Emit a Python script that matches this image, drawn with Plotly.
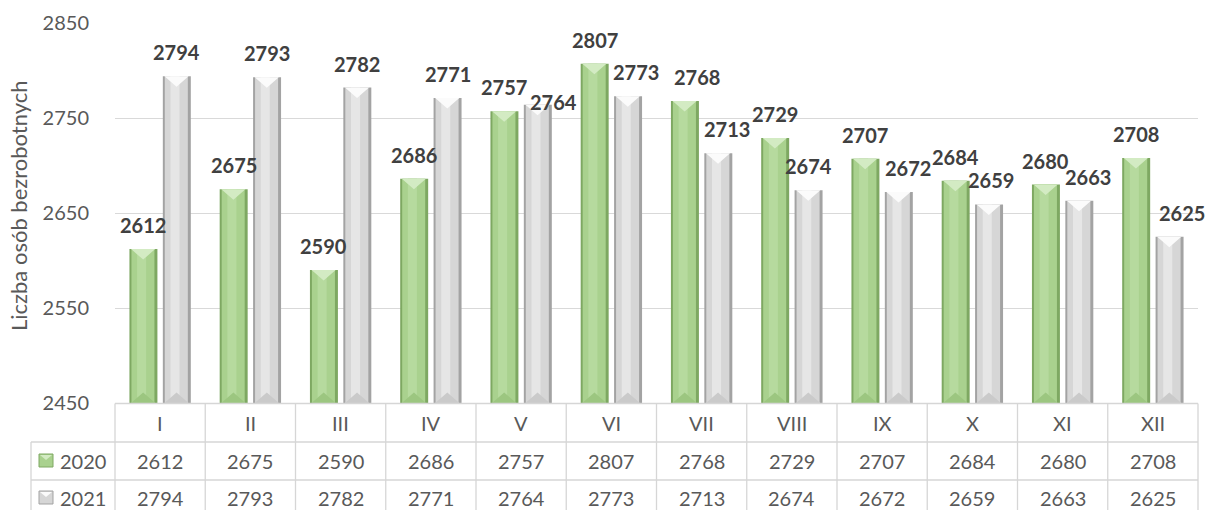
import plotly.graph_objects as go

# ---------------- data ----------------
months = ["I", "II", "III", "IV", "V", "VI", "VII", "VIII", "IX", "X", "XI", "XII"]
series_names = ["2020", "2021"]
values_2020 = [2612, 2675, 2590, 2686, 2757, 2807, 2768, 2729, 2707, 2684, 2680, 2708]
values_2021 = [2794, 2793, 2782, 2771, 2764, 2773, 2713, 2674, 2672, 2659, 2663, 2625]
y_ticks = [2450, 2550, 2650, 2750, 2850]
y_title = "Liczba osób bezrobotnych"

# label nudges in pixels (styling only)
label_dx_2020 = [0, 0, 0, 0, 0, 0, 12, 0, 0, 0, 0, 0]
label_dx_2021 = [0, 0, 0, 0, 16, 8, 9, 0, 9, 2, 9, 12]
label_dy_2021 = [0, 0, 0, 0, -21, 0, 0, 0, 0, 0, 0, 0]

# ---------------- layout geometry ----------------
W, H = 1208, 510
L, R, T, B = 115, 10, 23, 107
PW = W - L - R
PH = H - T - B
FONT = "Lato"
TXT = "#595959"
LBL = "#404040"
GRID = "#d9d9d9"
n = len(months)


def px2x(px):
    return (px - L) / PW


def px2y(py):
    return (T + PH - py) / PH


def xd2paper(xd):
    return (xd + 0.5) / n


idx = list(range(n))
BW = 0.31
OFF = {"2020": -0.185, "2021": 0.185}
VALS = {"2020": values_2020, "2021": values_2021}
DX = {"2020": label_dx_2020, "2021": label_dx_2021}
DY = {"2020": [0] * n, "2021": label_dy_2021}
STY = {
    "2020": dict(edge="#7ea862", main="#a9d18e", light="#b6da9e", top="#d3ebc3", bot="#9cc680"),
    "2021": dict(edge="#a3a3a3", main="#d6d6d6", light="#e6e6e6", top="#fbfbfb", bot="#cacaca"),
}
units_per_px = (y_ticks[-1] - y_ticks[0]) / PH

fig = go.Figure()

for s in series_names:
    st = STY[s]
    v = VALS[s]
    o = OFF[s]
    # base (dark edge)
    fig.add_trace(go.Bar(x=idx, y=v, offset=o - BW / 2, width=BW,
                         marker=dict(color=st["edge"], line=dict(width=0)),
                         name=s, showlegend=False, hoverinfo="y"))
    # main body
    fig.add_trace(go.Bar(x=idx, y=v, offset=o - BW / 2 + 0.022, width=BW - 0.055,
                         marker=dict(color=st["main"], line=dict(width=0)),
                         showlegend=False, hoverinfo="skip"))
    # highlight
    fig.add_trace(go.Bar(x=idx, y=v, offset=o - 0.07, width=0.1,
                         marker=dict(color=st["light"], line=dict(width=0)),
                         showlegend=False, hoverinfo="skip"))
    # top bevel triangles
    d = 10.5 * units_per_px
    tx, ty = [], []
    for i, val in zip(idx, v):
        x0 = i + o - BW / 2 + 0.018
        x1 = i + o + BW / 2 - 0.025
        tx += [x0, x1, i + o - 0.003, x0, None]
        ty += [val, val, val - d, val, None]
    fig.add_trace(go.Scatter(x=tx, y=ty, mode="lines", fill="toself",
                             fillcolor=st["top"], line=dict(width=0, color=st["top"]),
                             showlegend=False, hoverinfo="skip"))
    # bottom bevel triangles
    bx, by = [], []
    base = y_ticks[0]
    for i in idx:
        x0 = i + o - BW / 2 + 0.018
        x1 = i + o + BW / 2 - 0.025
        bx += [x0, x1, i + o - 0.003, x0, None]
        by += [base, base, base + d, base, None]
    fig.add_trace(go.Scatter(x=bx, y=by, mode="lines", fill="toself",
                             fillcolor=st["bot"], line=dict(width=0, color=st["bot"]),
                             showlegend=False, hoverinfo="skip"))

annotations = []
# data labels
for s in series_names:
    for i, val in zip(idx, VALS[s]):
        annotations.append(dict(x=i + OFF[s], y=val, xref="x", yref="y",
                                text=str(val), showarrow=False,
                                xshift=DX[s][i], yshift=24 + DY[s][i],
                                yanchor="middle", xanchor="center",
                                font=dict(family=FONT, size=20, color=LBL, weight="bold")))

# table header row and value rows
row_y = {"hdr": 423, "2020": 461, "2021": 498}
for i, m in enumerate(months):
    annotations.append(dict(x=i, y=px2y(row_y["hdr"]), xref="x", yref="paper",
                            text=m, showarrow=False, yanchor="middle",
                            font=dict(family=FONT, size=20, color=TXT)))
for s in series_names:
    for i, val in zip(idx, VALS[s]):
        annotations.append(dict(x=i, y=px2y(row_y[s]), xref="x", yref="paper",
                                text=str(val), showarrow=False, yanchor="middle",
                                font=dict(family=FONT, size=20, color=TXT)))
    annotations.append(dict(x=px2x(58), y=px2y(row_y[s]), xref="paper", yref="paper",
                            text=s, showarrow=False, xanchor="left", yanchor="middle",
                            font=dict(family=FONT, size=20, color=TXT)))

# axis title
annotations.append(dict(x=px2x(18), y=px2y(206), xref="paper", yref="paper",
                        text=y_title, textangle=-90, showarrow=False,
                        xanchor="center", yanchor="middle",
                        font=dict(family=FONT, size=22, color=TXT)))

shapes = []
LC = "#d6d6d6"
# horizontal table lines
shapes.append(dict(type="line", xref="paper", yref="paper", x0=0, x1=1,
                   y0=px2y(403.5), y1=px2y(403.5), line=dict(color=LC, width=1.3)))
for yy in (442, 480):
    shapes.append(dict(type="line", xref="paper", yref="paper", x0=px2x(31), x1=1,
                       y0=px2y(yy), y1=px2y(yy), line=dict(color=LC, width=1.3)))
# vertical table lines
shapes.append(dict(type="line", xref="paper", yref="paper", x0=px2x(31), x1=px2x(31),
                   y0=px2y(442), y1=px2y(515), line=dict(color=LC, width=1.3)))
for k in range(n + 1):
    xp = xd2paper(k - 0.5)
    shapes.append(dict(type="line", xref="paper", yref="paper", x0=xp, x1=xp,
                       y0=px2y(403.5), y1=px2y(515), line=dict(color=LC, width=1.3)))
# legend keys
for s in series_names:
    st = STY[s]
    yc = row_y[s]
    shapes.append(dict(type="rect", xref="paper", yref="paper",
                       x0=px2x(39), x1=px2x(53), y0=px2y(yc - 7), y1=px2y(yc + 6),
                       fillcolor=st["main"], line=dict(color=st["edge"], width=1)))
    shapes.append(dict(type="path", xref="paper", yref="paper",
                       path="M {a},{b} L {c},{b} L {e},{f} Z".format(
                           a=px2x(40), c=px2x(52), b=px2y(yc - 6), e=px2x(46), f=px2y(yc - 1)),
                       fillcolor=st["top"], line=dict(width=0)))

fig.update_layout(
    width=W, height=H,
    margin=dict(l=L, r=R, t=T, b=B, pad=0),
    paper_bgcolor="white", plot_bgcolor="white",
    barmode="overlay",
    showlegend=False,
    annotations=annotations,
    shapes=shapes,
    xaxis=dict(range=[-0.5, n - 0.5], showgrid=False, zeroline=False,
               showticklabels=False, ticks="", showline=False, fixedrange=True),
    yaxis=dict(range=[y_ticks[0], y_ticks[-1]], tickvals=y_ticks,
               showgrid=True, gridcolor=GRID, gridwidth=1, zeroline=False,
               showline=False, ticks="outside", ticklen=21, tickcolor="rgba(0,0,0,0)",
               tickfont=dict(family=FONT, size=20, color=TXT), fixedrange=True),
    font=dict(family=FONT),
)

fig.write_html("out.html",
               config={"displayModeBar": False},
               post_script="document.body.style.margin='0';document.body.style.overflow='hidden';")
